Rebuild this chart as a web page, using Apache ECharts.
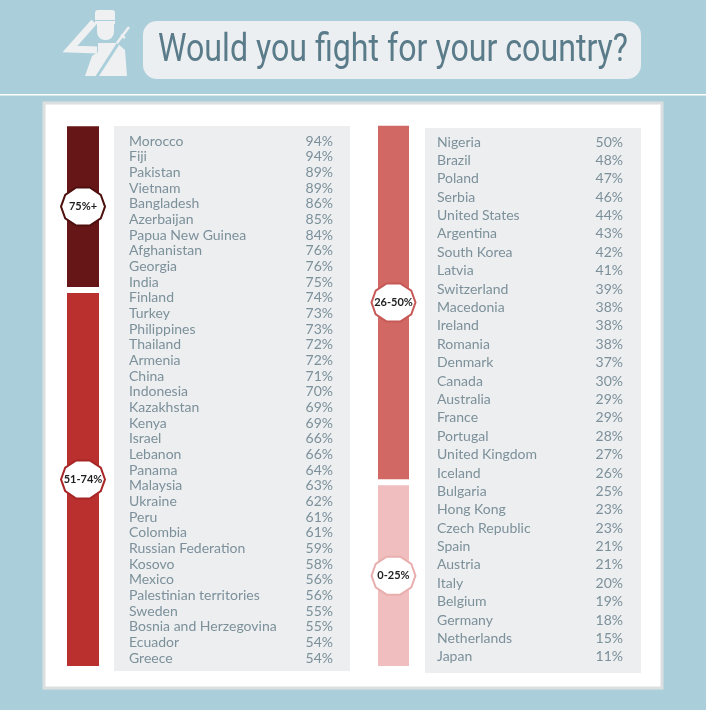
<!DOCTYPE html>
<html>
<head>
<meta charset="utf-8">
<script src="https://cdn.jsdelivr.net/npm/echarts@6/dist/echarts.min.js"></script>
<style>
html,body{margin:0;padding:0;background:#aacfdb}
#main{width:706px;height:710px}
</style>
</head>
<body>
<div id="main"></div>
<script>
// share of people who would fight for their country
var leftCountries = ['Morocco','Fiji','Pakistan','Vietnam','Bangladesh','Azerbaijan','Papua New Guinea','Afghanistan','Georgia','India',
  'Finland','Turkey','Philippines','Thailand','Armenia','China','Indonesia','Kazakhstan','Kenya','Israel',
  'Lebanon','Panama','Malaysia','Ukraine','Peru','Colombia','Russian Federation','Kosovo','Mexico','Palestinian territories',
  'Sweden','Bosnia and Herzegovina','Ecuador','Greece'];
var leftValues = [94,94,89,89,86,85,84,76,76,75,
  74,73,73,72,72,71,70,69,69,66,
  66,64,63,62,61,61,59,58,56,56,
  55,55,54,54];
var rightCountries = ['Nigeria','Brazil','Poland','Serbia','United States','Argentina','South Korea','Latvia','Switzerland','Macedonia',
  'Ireland','Romania','Denmark','Canada','Australia','France','Portugal','United Kingdom','Iceland',
  'Bulgaria','Hong Kong','Czech Republic','Spain','Austria','Italy','Belgium','Germany','Netherlands','Japan'];
var rightValues = [50,48,47,46,44,43,42,41,39,38,
  38,38,37,30,29,29,28,27,26,
  25,23,23,21,21,20,19,18,15,11];
var groupLabels = ['75%+','51-74%','26-50%','0-25%'];
var groupMins = [75,51,26,0];
var titleText = 'Would you fight for your country?';

var groupColors = ['#661616','#b9302e','#d26864','#f0bebe'];
var badgeBorders = ['#4e0f0f','#a82626','#c65855','#e9aeae'];
var textColor = '#7c909a';
var iconColor = '#eef0f1';
var bg = '#aacfdb';

function groupOf(v){
  for (var i=0;i<groupMins.length;i++) if (v>=groupMins[i]) return i;
  return groupMins.length-1;
}
function segments(values){
  var out=[], cur=null;
  values.forEach(function(v,i){
    var g=groupOf(v);
    if (!cur || cur[0]!==g){ cur=[g,i,i,out.length===0?1:0,0]; out.push(cur); }
    else cur[2]=i;
  });
  out[out.length-1][4]=1;
  return out;
}

function renderBand(params, api){
  var g=api.value(0), s=api.value(1), e=api.value(2), first=api.value(3), last=api.value(4);
  var cs=params.coordSys;
  var band=api.size([0,1])[1];
  var y0=api.coord([0,s])[1]-band/2-(first?7:-3);
  var y1=api.coord([0,e])[1]+band/2-(last?0:3);
  var cx=cs.x+cs.width/2, cy=(y0+y1)/2;
  var pts=[];
  for (var k=0;k<10;k++){
    var a=k*Math.PI/5;
    pts.push([cx+22*Math.cos(a), cy+20*Math.sin(a)]);
  }
  return {
    type:'group',
    children:[
      {type:'rect', shape:{x:cs.x,y:y0,width:cs.width,height:y1-y0}, style:{fill:groupColors[g]}},
      {type:'polygon', shape:{points:pts}, style:{fill:'#ffffff', stroke:badgeBorders[g], lineWidth:2}},
      {type:'text', style:{text:groupLabels[g], x:cx, y:cy, align:'center', verticalAlign:'middle',
        fontSize:11, fontWeight:'bold', fontFamily:'Lato', fill:'#1e1e1e'}}
    ]
  };
}

function textAxes(grid, cats, vals, m1, m2){
  return [{
    type:'category', gridIndex:grid, inverse:true, data:cats, position:'left',
    axisLine:{show:false}, axisTick:{show:false}, splitLine:{show:false},
    axisLabel:{inside:true, margin:m1, color:textColor, fontSize:14, fontFamily:'Lato', interval:0}
  },{
    type:'category', gridIndex:grid, inverse:true, data:cats, position:'right',
    axisLine:{show:false}, axisTick:{show:false}, splitLine:{show:false},
    axisLabel:{inside:true, margin:m2, color:textColor, fontSize:14, fontFamily:'Lato', interval:0,
      formatter:function(v,i){ return vals[i]+'%'; }}
  }];
}
function barAxis(grid, cats){
  return {type:'category', gridIndex:grid, inverse:true, data:cats, show:false};
}

// squeeze the title into a condensed look
var ctx=document.createElement('canvas').getContext('2d');
ctx.font='38px Roboto';
var titleScale=470/ctx.measureText(titleText).width;

var chart=echarts.init(document.getElementById('main'));
var hidX=function(i){ return {type:'value', gridIndex:i, min:0, max:4, show:false}; };

var option={
  backgroundColor:bg,
  animation:false,
  grid:[
    {left:114, width:236, top:133.2, height:532.8},
    {left:425, width:216, top:132.8, height:533.3},
    {left:67, width:32, top:133.2, height:532.8},
    {left:378, width:31, top:132.8, height:533.3}
  ],
  xAxis:[hidX(0),hidX(1),hidX(2),hidX(3)],
  yAxis:[].concat(
    textAxes(0,leftCountries,leftValues,15,17),
    textAxes(1,rightCountries,rightValues,12,18),
    [barAxis(2,leftCountries), barAxis(3,rightCountries)]
  ),
  graphic:[
    {type:'rect', z:-10, shape:{x:0,y:94,width:706,height:1.5}, style:{fill:'#ffffff'}},
    {type:'rect', z:-10, shape:{x:44,y:103,width:618,height:585}, style:{fill:'#ffffff', stroke:'#dcdfe0', lineWidth:3}},
    {type:'rect', z:-9, shape:{x:114,y:126,width:236,height:545}, style:{fill:'#eceef0'}},
    {type:'rect', z:-9, shape:{x:425,y:128,width:216,height:545}, style:{fill:'#eceef0'}},
    {type:'rect', z:-10, shape:{x:143,y:21,width:498,height:58,r:14}, style:{fill:'#eceff1'}},
    {type:'text', z:-8, x:158, y:51, scaleX:titleScale,
      style:{text:titleText, x:0, y:0, verticalAlign:'middle',
      fontSize:38, fontFamily:'Roboto', fill:'#5a7b89'}},
    // saluting soldier icon
    {type:'group', z:-8, children:[
      {type:'rect', shape:{x:95,y:10,width:20,height:10,r:[3,3,0,0]}, style:{fill:iconColor}},
      {type:'rect', shape:{x:95,y:21,width:20,height:3}, style:{fill:iconColor}},
      {type:'rect', shape:{x:97,y:24,width:17,height:16,r:[0,0,8,8]}, style:{fill:iconColor}},
      {type:'polyline', shape:{points:[[94,22],[70,49],[97,50]]}, style:{stroke:iconColor, lineWidth:7, fill:null}},
      {type:'polygon', shape:{points:[[98,43],[117,43],[125,50],[127,76],[85,76],[92,56],[98,52]]}, style:{fill:iconColor}},
      {type:'line', shape:{x1:118,y1:44,x2:96,y2:78}, style:{stroke:bg, lineWidth:3}},
      {type:'line', shape:{x1:129,y1:27,x2:117,y2:43}, style:{stroke:iconColor, lineWidth:2.5}},
      {type:'line', shape:{x1:121,y1:35,x2:125,y2:38}, style:{stroke:iconColor, lineWidth:2.5}}
    ]}
  ],
  series:[
    {type:'custom', xAxisIndex:2, yAxisIndex:4, renderItem:renderBand, encode:{x:0,y:1}, data:segments(leftValues)},
    {type:'custom', xAxisIndex:3, yAxisIndex:5, renderItem:renderBand, encode:{x:0,y:1}, data:segments(rightValues)}
  ]
};
chart.setOption(option);
</script>
</body>
</html>
